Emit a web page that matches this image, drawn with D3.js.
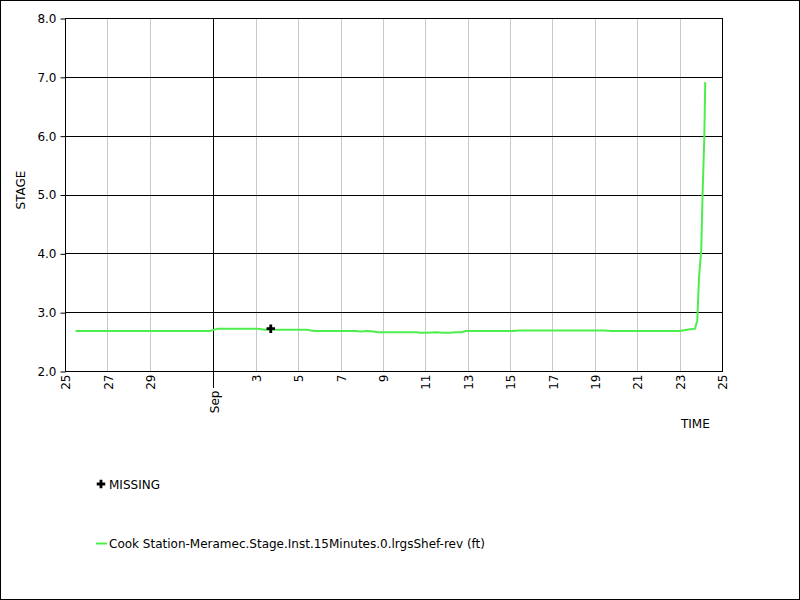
<!DOCTYPE html>
<html>
<head>
<meta charset="utf-8">
<script src="https://cdn.jsdelivr.net/npm/d3@7"></script>
<style>
  body { margin: 0; background: #fff; }
  svg { font-family: "DejaVu Sans", Verdana, sans-serif; }
</style>
</head>
<body>
<svg id="chart" width="800" height="600"></svg>
<script>
// stage readings (time, ft)
const obsTimes = [
  "2023-08-25T12:00", "2023-08-31T20:00", "2023-09-01T05:00", "2023-09-03T02:30",
  "2023-09-03T10:30", "2023-09-05T10:00", "2023-09-05T18:00", "2023-09-07T16:30",
  "2023-09-07T23:00", "2023-09-08T07:00", "2023-09-08T13:00", "2023-09-08T18:30",
  "2023-09-10T13:30", "2023-09-10T18:00", "2023-09-11T03:00", "2023-09-11T12:00",
  "2023-09-11T20:00", "2023-09-12T04:00", "2023-09-12T10:00", "2023-09-12T17:00",
  "2023-09-12T22:00", "2023-09-15T03:30", "2023-09-15T10:00", "2023-09-19T10:30",
  "2023-09-19T18:30", "2023-09-23T00:30", "2023-09-23T08:30", "2023-09-23T17:30",
  "2023-09-23T20:00", "2023-09-23T22:00", "2023-09-24T00:30", "2023-09-24T02:00",
  "2023-09-24T04:00", "2023-09-24T05:00"
];
const obsStage = [
  2.68, 2.68, 2.72, 2.72,
  2.70, 2.70, 2.68, 2.68,
  2.67, 2.68, 2.67, 2.66,
  2.66, 2.65, 2.65, 2.66,
  2.65, 2.65, 2.66, 2.66,
  2.68, 2.68, 2.69, 2.69,
  2.68, 2.68, 2.70, 2.72,
  2.86, 3.60, 4.06, 5.00,
  5.98, 6.91
];
// missing value marker
const missingTimes = ["2023-09-03T17:00"];
const missingStage = [2.72];

const tickDays = ["2023-08-25", "2023-08-27", "2023-08-29", "2023-09-01", "2023-09-03",
  "2023-09-05", "2023-09-07", "2023-09-09", "2023-09-11", "2023-09-13", "2023-09-15",
  "2023-09-17", "2023-09-19", "2023-09-21", "2023-09-23", "2023-09-25"];
const stageTicks = [2, 3, 4, 5, 6, 7, 8];

const seriesName = "Cook Station-Meramec.Stage.Inst.15Minutes.0.lrgsShef-rev (ft)";
const lineColor = "#4cee4c";

const parseT = d3.timeParse("%Y-%m-%dT%H:%M");
const parseD = d3.timeParse("%Y-%m-%d");
const plot = { left: 65, right: 722, top: 18, bottom: 371 };

const svg = d3.select("#chart");
svg.append("rect").attr("x", 0.5).attr("y", 0.5).attr("width", 799).attr("height", 599)
  .attr("fill", "#fff").attr("stroke", "#000");

const x = d3.scaleTime()
  .domain([parseD("2023-08-25"), parseD("2023-09-25")])
  .range([plot.left, plot.right]);
const y = d3.scaleLinear().domain([2, 8]).range([plot.bottom, plot.top]);

const ticks = tickDays.map(parseD);
const isMonth = d => d.getDate() === 1;

// vertical grid
svg.append("g").selectAll("line").data(ticks).join("line")
  .attr("x1", d => Math.round(x(d)) + 0.5).attr("x2", d => Math.round(x(d)) + 0.5)
  .attr("y1", plot.top).attr("y2", d => isMonth(d) ? plot.bottom + 17 : plot.bottom)
  .attr("stroke", d => isMonth(d) ? "#000" : "#c8c8c8");

// horizontal grid
svg.append("g").selectAll("line").data(stageTicks).join("line")
  .attr("x1", plot.left).attr("x2", plot.right)
  .attr("y1", d => Math.round(y(d)) + 0.5).attr("y2", d => Math.round(y(d)) + 0.5)
  .attr("stroke", "#000");

// plot frame
svg.append("rect").attr("x", plot.left + 0.5).attr("y", plot.top + 0.5)
  .attr("width", plot.right - plot.left).attr("height", plot.bottom - plot.top)
  .attr("fill", "none").attr("stroke", "#000");

// y axis
const yAxis = d3.axisLeft(y).tickValues(stageTicks).tickFormat(d3.format(".1f")).tickSize(5).tickPadding(4);
const yg = svg.append("g").attr("transform", `translate(${plot.left + 0.5},0.5)`).call(yAxis);
yg.select(".domain").remove();
yg.selectAll("text").attr("font-size", 12).attr("font-family", "DejaVu Sans").attr("fill", "#000");

// x axis
const fmt = d => isMonth(d) ? d3.timeFormat("%b")(d) : String(d.getDate());
const xAxis = d3.axisBottom(x).tickValues(ticks).tickFormat(fmt).tickSize(0);
const xg = svg.append("g").attr("transform", `translate(0.5,${plot.bottom + 0.5})`).call(xAxis);
xg.select(".domain").remove();
xg.selectAll("line").remove();
xg.selectAll("text")
  .attr("font-size", 12).attr("font-family", "DejaVu Sans").attr("fill", "#000")
  .attr("transform", "rotate(-90)")
  .attr("text-anchor", "end")
  .attr("x", d => isMonth(d) ? -19 : -3).attr("y", 0).attr("dy", "0.35em");

// axis titles
svg.append("text").attr("transform", "translate(25,190) rotate(-90)")
  .attr("text-anchor", "middle").attr("font-size", 12).text("STAGE");
svg.append("text").attr("x", 681).attr("y", 428).attr("font-size", 12).text("TIME");

// series line
const points = obsTimes.map((t, i) => ({ t: parseT(t), v: obsStage[i] }));
const line = d3.line().x(d => x(d.t)).y(d => y(d.v));
svg.append("path").datum(points)
  .attr("fill", "none").attr("stroke", lineColor).attr("stroke-width", 2)
  .attr("d", line);

// missing marker
const cross = d3.symbol().type(d3.symbolCross).size(40);
svg.append("g").selectAll("path").data(missingTimes).join("path")
  .attr("transform", (d, i) => `translate(${x(parseT(d))},${y(missingStage[i])})`)
  .attr("d", cross).attr("fill", "#000");

// legend
svg.append("path").attr("transform", "translate(101,484)").attr("d", cross).attr("fill", "#000");
svg.append("text").attr("x", 109).attr("y", 489).attr("font-size", 12).text("MISSING");
svg.append("line").attr("x1", 96).attr("x2", 107).attr("y1", 543.5).attr("y2", 543.5)
  .attr("stroke", lineColor).attr("stroke-width", 2);
svg.append("text").attr("x", 109).attr("y", 548).attr("font-size", 12).text(seriesName);
</script>
</body>
</html>
